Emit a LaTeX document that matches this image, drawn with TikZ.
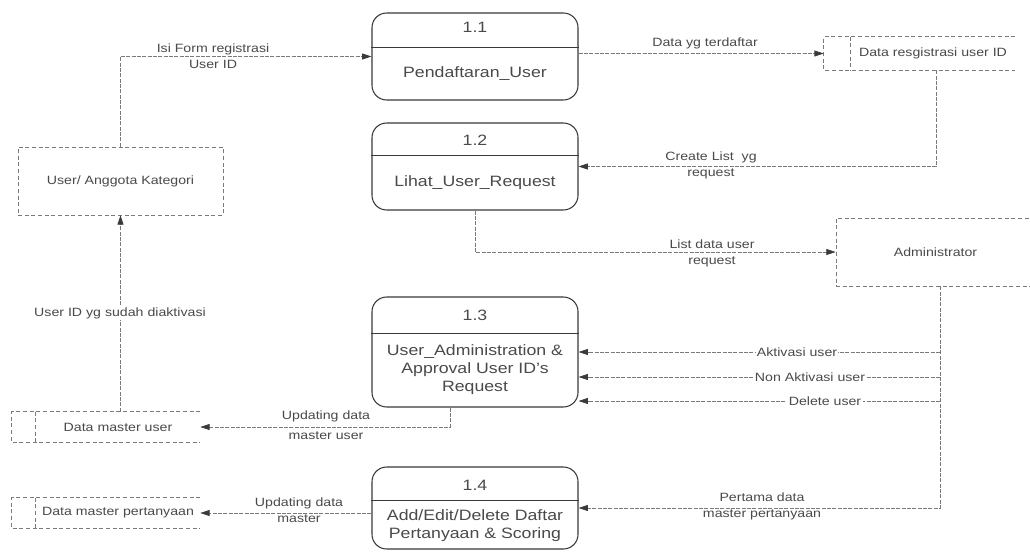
\documentclass[tikz,border=0pt]{standalone}
\usepackage{fontspec}
\setmainfont[FakeStretch=1.18]{Liberation Sans}
\usetikzlibrary{arrows.meta}
\definecolor{ink}{HTML}{4A4A4A}
\definecolor{edge}{HTML}{3A3A3A}
\definecolor{wire}{HTML}{7A7A7A}

\begin{document}
\begin{tikzpicture}[x=0.75pt,y=-0.75pt,
  proc/.style={draw=edge, line width=0.8pt, rounded corners=11pt, inner sep=0pt, minimum width=154.5pt},
  procdiv/.style={draw=edge, line width=0.6pt},
  procnum/.style={text=ink, font=\fontsize{11.25}{13.5}\selectfont},
  proctxt/.style={text=ink, font=\fontsize{11.25}{13.5}\selectfont, align=center},
  extent/.style={draw=wire, densely dashed, line width=0.5pt, inner sep=0pt, text=ink, font=\fontsize{9}{11}\selectfont},
  storebox/.style={inner sep=0pt, minimum height=22.5pt},
  storeline/.style={draw=wire, densely dashed, line width=0.5pt},
  storetxt/.style={text=ink, font=\fontsize{9}{11}\selectfont},
  flow/.style={draw=wire, line width=0.55pt, dash pattern=on 3pt off 1pt,
    -{Triangle[length=7pt,width=4.5pt,color=edge]}},
  trunk/.style={draw=wire, line width=0.55pt, dash pattern=on 3pt off 1pt},
  flowlabel/.style={text=ink, font=\fontsize{9}{12}\selectfont, align=center, inner sep=1pt},
  onwire/.style={flowlabel, fill=white}
]
\useasboundingbox[fill=white] (0,0) rectangle (1030,552);

% ---- processes ----
\node[proc, minimum height=65.25pt] (p1) at (475,56.5) {};
\draw[procdiv] (p1.west |- 0,47) -- (p1.east |- 0,47);
\node[procnum] (p1n) at (475,27) {1.1};
\node[proctxt] (p1t) at (475,74) {Pendaftaran\_User};

\node[proc, minimum height=65.25pt] (p2) at (475,166.5) {};
\draw[procdiv] (p2.west |- 0,155) -- (p2.east |- 0,155);
\node[procnum] (p2n) at (475,140) {1.2};
\node[proctxt] (p2t) at (475,183) {Lihat\_User\_Request};

\node[proc, minimum height=82.5pt] (p3) at (475,352) {};
\draw[procdiv] (p3.west |- 0,333) -- (p3.east |- 0,333);
\node[procnum] (p3n) at (475,315) {1.3};
\node[proctxt] (p3t) at (475,370) {User\_Administration \&\\Approval User ID's\\Request};

\node[proc, minimum height=61.5pt] (p4) at (475,508) {};
\draw[procdiv] (p4.west |- 0,500) -- (p4.east |- 0,500);
\node[procnum] (p4n) at (475,485) {1.4};
\node[proctxt] (p4t) at (475,526) {Add/Edit/Delete Daftar\\Pertanyaan \& Scoring};

% ---- external entities ----
\node[extent, minimum width=153.75pt, minimum height=51pt] (user) at (120.5,181) {User/ Anggota Kategori};
\node[extent, minimum width=149.25pt, minimum height=51pt] (admin) at (935.5,252) {Administrator};

% ---- data stores (open on the right) ----
\node[storebox, minimum width=143.25pt, minimum height=24.75pt] (ds1) at (919.5,53.5) {};
\draw[storeline] (ds1.north east) -- (ds1.north west) -- (ds1.south west) -- (ds1.south east);
\draw[storeline] ([xshift=20.25pt]ds1.north west) -- ([xshift=20.25pt]ds1.south west);
\node[storetxt] (ds1t) at (933,53) {Data resgistrasi user ID};

\node[storebox, minimum width=141pt] (dmu) at (106,427) {};
\draw[storeline] (dmu.north east) -- (dmu.north west) -- (dmu.south west) -- (dmu.south east);
\draw[storeline] ([xshift=18pt]dmu.north west) -- ([xshift=18pt]dmu.south west);
\node[storetxt] (dmut) at (118,427) {Data master user};

\node[storebox, minimum width=141pt] (dmp) at (106,513) {};
\draw[storeline] (dmp.north east) -- (dmp.north west) -- (dmp.south west) -- (dmp.south east);
\draw[storeline] ([xshift=18pt]dmp.north west) -- ([xshift=18pt]dmp.south west);
\node[storetxt] (dmpt) at (118,513) {Data master pertanyaan};

% ---- data flows ----
\draw[flow] (user.north) |- (p1.west);
\node[flowlabel] (l1) at (213,56) {Isi Form registrasi\\User ID};

\draw[flow] (p1.east |- ds1.west) -- (ds1.west);
\node[flowlabel] (l2) at (705,43) {Data yg terdaftar};

\draw[flow] (ds1.south -| 936,0) |- (p2.east);
\node[flowlabel] (l3) at (711,165) {Create List\ \ yg\\request};

\draw[flow] (p2.south) |- (admin.west);
\node[flowlabel] (l4) at (712,253) {List data user\\request};

\coordinate (top) at (admin.south -| 940,0);
\coordinate (b1) at (940,352);
\coordinate (b2) at (940,377);
\coordinate (b3) at (940,401);
\draw[flow] (top) |- (p4.east);
\draw[flow] (b1) -- (p3.east |- b1);
\draw[flow] (b2) -- (p3.east |- b2);
\draw[flow] (b3) -- (p3.east |- b3);
\node[onwire] (l5) at (797,352) {Aktivasi user};
\node[onwire] (l6) at (810,377) {Non Aktivasi user};
\node[onwire] (l7) at (825,401) {Delete user};
\node[flowlabel] (l8) at (762,506) {Pertama data\\master pertanyaan};

\draw[flow] (p3.south -| 450,0) |- (dmu.east);
\node[flowlabel, font=\fontsize{9}{15}\selectfont] (l9) at (326,425) {Updating data\\master user};

\draw[flow] (user.south |- dmu.north) -- (user.south);
\node[onwire] (l10) at (120,313) {User ID yg sudah diaktivasi};

\draw[flow] (p4.west |- dmp.east) -- (dmp.east);
\node[flowlabel] (l11) at (299,510) {Updating data\\master};
\end{tikzpicture}
\end{document}
